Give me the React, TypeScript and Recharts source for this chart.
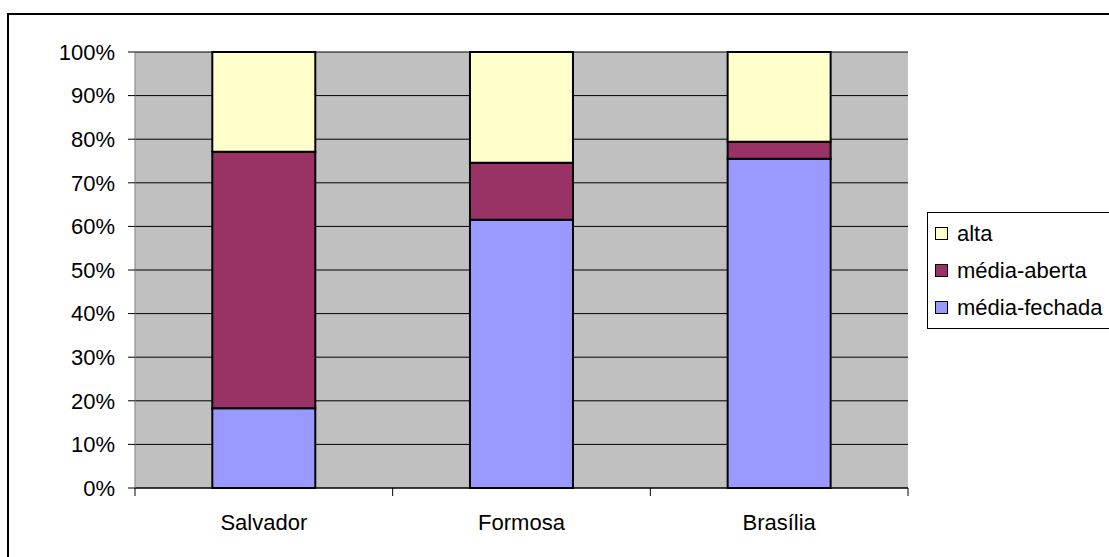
import { BarChart, Bar, XAxis, YAxis, CartesianGrid, Legend } from 'recharts';

const cities = ['Salvador', 'Formosa', 'Brasília'];
const mediaFechada = [18.3, 61.5, 75.5];
const mediaAberta = [58.8, 13.1, 3.9];
const alta = [22.9, 25.4, 20.6];
const yTicks = [0, 10, 20, 30, 40, 50, 60, 70, 80, 90, 100];

// ordem de empilhamento: de baixo para cima
const series = [
  { key: 'fechada', name: 'média-fechada', color: '#9999FF' },
  { key: 'aberta', name: 'média-aberta', color: '#993366' },
  { key: 'alta', name: 'alta', color: '#FFFFCC' },
];

const data = cities.map((city, i) => ({
  city,
  pos: i + 0.5,
  fechada: mediaFechada[i],
  aberta: mediaAberta[i],
  alta: alta[i],
}));

// divisões entre categorias (inteiros) e centros (x.5) para os rótulos
const boundaryTicks = cities.flatMap((_, i) => [i, i + 0.5]).concat(cities.length);

const font = '"Liberation Sans", Arial, sans-serif';

const XTick = (props: any) => {
  const { x, y, payload } = props;
  const v = payload.value as number;
  if (Number.isInteger(v)) {
    return <line x1={x} x2={x} y1={y - 8} y2={y} stroke="#000" strokeWidth={1} />;
  }
  return (
    <text x={x} y={y + 34} textAnchor="middle" fill="#000" fontSize={22} fontFamily={font}>
      {cities[Math.floor(v)]}
    </text>
  );
};

const LegendBox = () => (
  <div
    style={{
      border: '1px solid #000',
      background: '#fff',
      width: 200,
      height: 113,
      boxSizing: 'content-box',
      paddingTop: 2,
      paddingLeft: 7,
      fontFamily: font,
      fontSize: 22,
      color: '#000',
    }}
  >
    {[...series].reverse().map((s) => (
      <div key={s.key} style={{ height: 37, display: 'flex', alignItems: 'center' }}>
        <span
          style={{
            width: 11,
            height: 11,
            background: s.color,
            border: '1px solid #000',
            marginRight: 9,
            display: 'inline-block',
          }}
        />
        <span>{s.name}</span>
      </div>
    ))}
  </div>
);

export default function App() {
  return (
    <div
      style={{
        position: 'absolute',
        left: 0,
        top: 0,
        width: 1109,
        height: 557,
        background: '#fff',
        overflow: 'hidden',
      }}
    >
      <div
        style={{
          position: 'absolute',
          left: 7,
          top: 13,
          width: 1200,
          height: 700,
          border: '2px solid #000',
        }}
      />
      <div style={{ position: 'absolute', left: 0, top: 0 }}>
        <BarChart
          width={1109}
          height={557}
          data={data}
          margin={{ top: 52, right: 201, left: 0, bottom: 0 }}
          barCategoryGap="30%"
        >
          <CartesianGrid
            xAxisId="grid"
            vertical={false}
            stroke="#000"
            fill="#C0C0C0"
            fillOpacity={1}
          />
          <XAxis xAxisId="cat" dataKey="city" hide height={0} />
          <XAxis
            xAxisId="grid"
            dataKey="pos"
            type="number"
            domain={[0, cities.length]}
            allowDataOverflow
            ticks={boundaryTicks}
            interval={0}
            allowDecimals
            height={69}
            tickSize={8}
            tickMargin={0}
            tickLine={false}
            tick={<XTick />}
            axisLine={{ stroke: '#000' }}
          />
          <YAxis
            domain={[0, 100]}
            ticks={yTicks}
            interval={0}
            width={135}
            tickSize={7}
            tickMargin={13}
            tickFormatter={(v) => `${v}%`}
            tick={{ fontSize: 22, fill: '#000', fontFamily: font }}
            tickLine={{ stroke: '#000' }}
            axisLine={{ stroke: '#808080' }}
          />
          <YAxis
            yAxisId="r"
            orientation="right"
            domain={[0, 100]}
            width={0}
            tick={false}
            tickLine={false}
            axisLine={{ stroke: '#808080' }}
          />
          {series.map((s) => (
            <Bar
              key={s.key}
              xAxisId="cat"
              dataKey={s.key}
              name={s.name}
              stackId="a"
              fill={s.color}
              stroke="#000"
              strokeWidth={2}
              isAnimationActive={false}
            />
          ))}
          <Legend
            layout="vertical"
            align="center"
            verticalAlign="middle"
            content={<LegendBox />}
            wrapperStyle={{ left: 927, top: 212, width: 'auto' }}
          />
        </BarChart>
      </div>
    </div>
  );
}
